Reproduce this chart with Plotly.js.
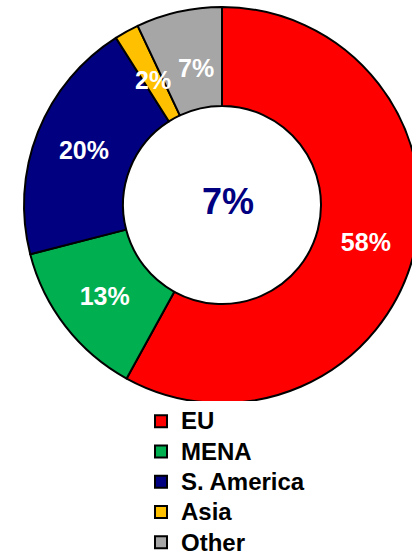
<!DOCTYPE html>
<html><head><meta charset="utf-8">
<script src="https://cdn.plot.ly/plotly-3.0.1.min.js"></script>
<style>html,body{margin:0;padding:0;overflow:hidden;background:#fff;width:412px;height:555px}</style>
</head><body><div id="chart"></div>
<script>
const regions = ["EU", "MENA", "S. America", "Asia", "Other"];
const shares = [58, 13, 20, 2, 7];
const sliceLabels = ["58%", "13%", "20%", "2%", "7%"];
const sliceColors = ["#FF0000", "#00B050", "#000080", "#FFC000", "#A6A6A6"];
const centerLabel = "7%";

const W = 440, H = 590;
const CX = 222, CY = 205, R = 198, HOLE = 0.5;
const font = {family: "Liberation Sans, Arial, sans-serif", weight: "bold"};
const toPx = (px, py) => ({x: px / W, y: 1 - py / H});

// Small slices (Asia, Other) get their label via annotations at the slice mid-angle,
// big slices use Plotly's inside text.
const smallIdx = [3, 4];
const nudges = {3: [0, 0], 4: [5, -2]};
const total = shares.reduce((a, b) => a + b, 0);
const annotations = [];
let cum = 0;
shares.forEach((v, i) => {
  const mid = (cum + v / 2) / total * 2 * Math.PI;
  cum += v;
  if (smallIdx.includes(i)) {
    const rr = R * 0.72;
    const p = toPx(CX + rr * Math.sin(mid), CY - rr * Math.cos(mid));
    annotations.push({x: p.x, y: p.y, xref: "paper", yref: "paper", text: sliceLabels[i],
      xanchor: "center", yanchor: "middle",
      showarrow: false, xshift: nudges[i][0], yshift: nudges[i][1],
      font: Object.assign({color: "#fff", size: 25}, font)});
  }
});
const c = toPx(CX + 6, CY - 4);
annotations.push({x: c.x, y: c.y, xref: "paper", yref: "paper", text: centerLabel, showarrow: false,
  xanchor: "center", yanchor: "middle",
  font: Object.assign({color: "#000080", size: 36}, font)});

Plotly.newPlot("chart", [{
  type: "pie",
  labels: regions.map(r => '<span style="font-size:24px">' + r + '</span>'),
  values: shares,
  text: sliceLabels.map((t, i) => smallIdx.includes(i) ? "" : t),
  textinfo: "text",
  textposition: "inside",
  insidetextorientation: "horizontal",
  hole: HOLE,
  sort: false,
  direction: "clockwise",
  rotation: 0,
  marker: {colors: sliceColors, line: {color: "#000", width: 2}},
  textfont: Object.assign({color: "#fff", size: 25}, font),
  domain: {x: [(CX - R) / W, (CX + R) / W], y: [1 - (CY + R) / H, 1 - (CY - R) / H]}
}], {
  width: W, height: H,
  margin: {l: 0, r: 0, t: 0, b: 0},
  paper_bgcolor: "#fff",
  uniformtext: {mode: "show", minsize: 25},
  annotations: annotations,
  showlegend: true,
  legend: {x: 141 / W, xanchor: "left", y: 1 - 401 / H, yanchor: "top",
    font: Object.assign({color: "#000", size: 21}, font), traceorder: "normal"}
}, {displayModeBar: false, staticPlot: true});
</script></body></html>
